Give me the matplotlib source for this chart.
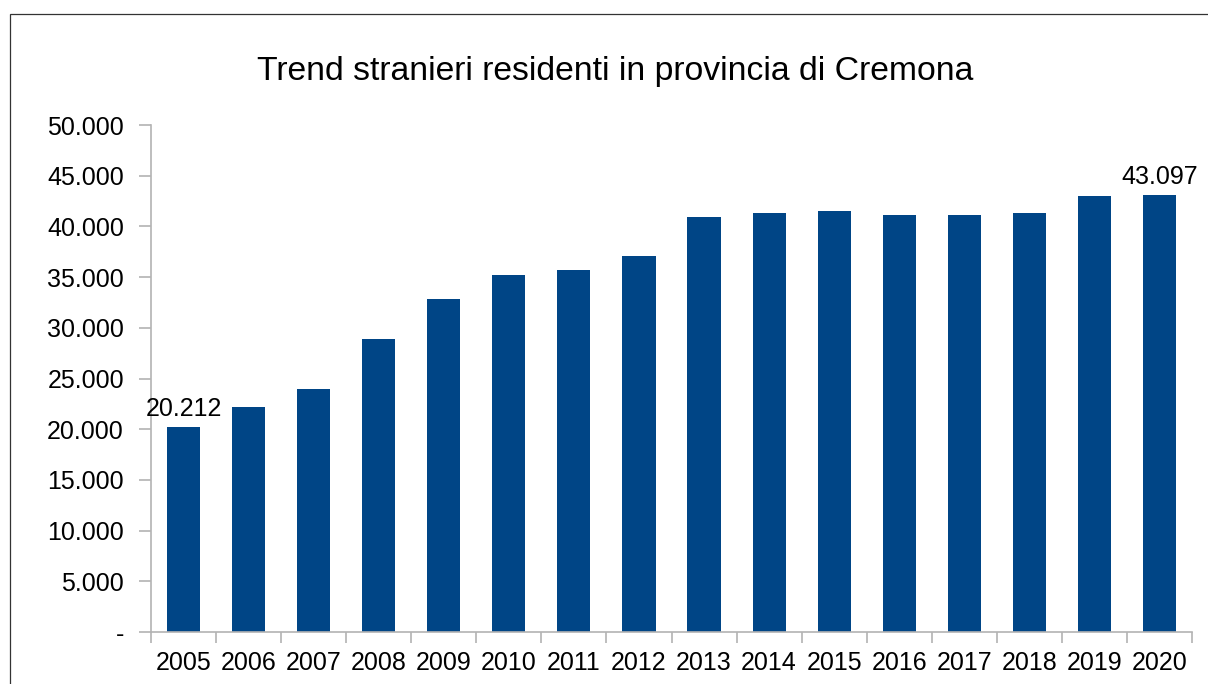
import matplotlib
matplotlib.use('Agg')
import matplotlib.pyplot as plt
from matplotlib.ticker import FuncFormatter, MultipleLocator
from matplotlib.patches import Rectangle

plt.rcParams['font.family'] = ['Liberation Sans', 'DejaVu Sans']

anni = ['2005', '2006', '2007', '2008', '2009', '2010', '2011', '2012',
        '2013', '2014', '2015', '2016', '2017', '2018', '2019', '2020']
stranieri = [20212, 22150, 23950, 28900, 32850, 35200, 35700, 37100,
             40950, 41300, 41500, 41100, 41100, 41300, 43000, 43097]
titolo = 'Trend stranieri residenti in provincia di Cremona'


def fmt_migliaia(v, pos=None):
    if v == 0:
        return '-'
    return f'{v:,.0f}'.replace(',', '.')


fig = plt.figure(figsize=(12.08, 6.84), dpi=100)
ax = fig.add_axes([151 / 1208, 52 / 684, 1041 / 1208, 507 / 684])

x = list(range(len(anni)))
ax.bar(x, stranieri, width=0.51, color='#004586')

ax.set_xlim(-0.5, len(anni) - 0.5)
ax.set_ylim(0, 50000)
ax.yaxis.set_major_locator(MultipleLocator(5000))
ax.yaxis.set_major_formatter(FuncFormatter(fmt_migliaia))

ax.set_xticks(x)
ax.set_xticklabels(anni)
ax.set_xticks([i + 0.5 for i in range(-1, len(anni))], minor=True)
ax.tick_params(axis='x', which='major', length=0, pad=14, labelsize=18)
ax.tick_params(axis='x', which='minor', length=8, width=1.2, color='#b3b3b3')
ax.tick_params(axis='y', length=8.5, width=1.2, color='#b3b3b3', pad=11, labelsize=18)

for s in ['top', 'right']:
    ax.spines[s].set_visible(False)
for s in ['left', 'bottom']:
    ax.spines[s].set_color('#b3b3b3')
    ax.spines[s].set_linewidth(1.2)

# etichette primo e ultimo anno
for i in [0, len(anni) - 1]:
    ax.annotate(fmt_migliaia(stranieri[i]), (x[i], stranieri[i]),
                xytext=(0, 4), textcoords='offset points',
                ha='center', va='bottom', fontsize=18)

fig.text(0.509, 0.895, titolo, ha='center', va='center', fontsize=24.3)

fig.patches.append(Rectangle((10 / 1208, -0.1), 1.2, (684 - 14) / 684 + 0.1,
                             transform=fig.transFigure, fill=False,
                             edgecolor='#333333', linewidth=0.9))

fig.savefig('out.png', dpi=100)
